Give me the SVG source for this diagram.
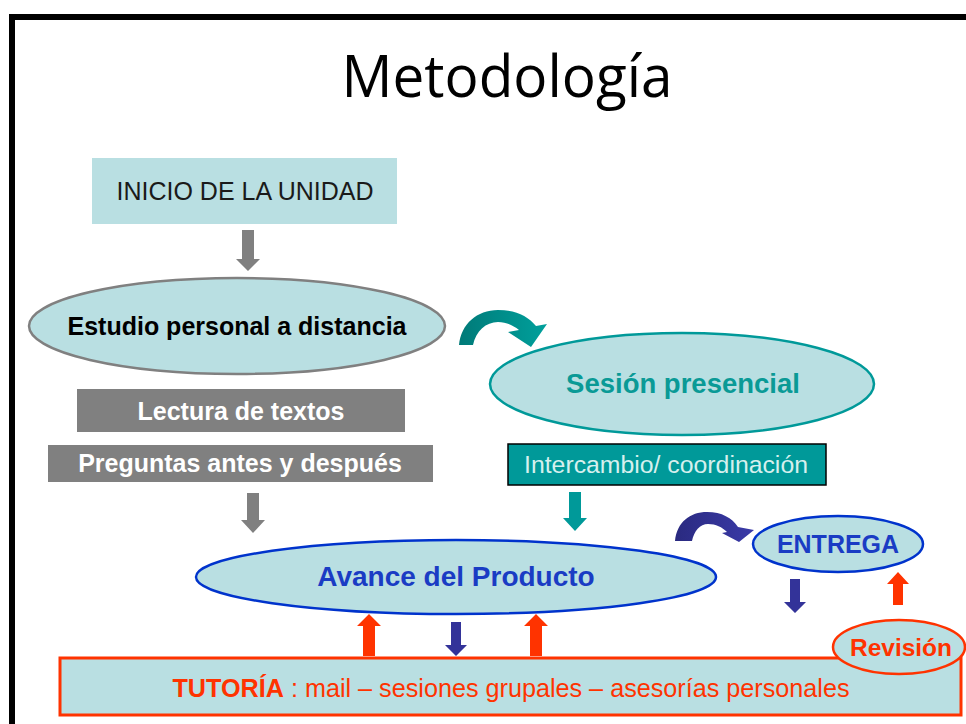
<svg xmlns="http://www.w3.org/2000/svg" width="966" height="724" viewBox="0 0 966 724">
<defs>
<style>
.lt{fill:#B9DFE2}
.t{font-family:"Liberation Sans",Arial,sans-serif;text-anchor:middle}
.b{font-weight:bold}
.gray{fill:#808080}
.teal{fill:#009999}
.navy{fill:#333399}
.red{fill:#FF3300}
</style>
<linearGradient id="gTeal" x1="0" y1="0" x2="1" y2="0">
<stop offset="0" stop-color="#007A78"/><stop offset="1" stop-color="#00A09C"/>
</linearGradient>
<linearGradient id="gNavy" x1="0" y1="0" x2="1" y2="0">
<stop offset="0" stop-color="#2A2A80"/><stop offset="1" stop-color="#3A3AA8"/>
</linearGradient>
</defs>
<rect x="0" y="0" width="966" height="724" fill="#FFFFFF"/>
<rect x="12" y="17" width="1000" height="800" fill="none" stroke="#000000" stroke-width="6"/>
<text x="507" y="97" font-family="'Open Sans','DejaVu Sans',sans-serif" font-size="58" textLength="331" lengthAdjust="spacingAndGlyphs" text-anchor="middle" fill="#000000">Metodología</text>

<g id="connectors">
<polygon class="gray" points="242,230 254,230 254,259 260,259 248,271 236,259 242,259"/>
<polygon class="gray" points="247,493 259,493 259,520 265,520 253,533 241,520 247,520"/>
<polygon class="teal" points="569,492 581,492 581,518 587,518 575,531 563,518 569,518"/>
<path fill="url(#gTeal)" d="M459,345 C461,324 477,310 498,310 C515,310 528,316 536,326 L547,324 L531,347 L508,332 L519,330 C513,325 506,322 498,322 C486,322 476,331 473,345 Z"/>
<path fill="url(#gNavy)" d="M675,541 C677,522 690,512 707,512 C722,512 732,518 738,527 L754,530 L739,542 L722,533 L727,532 C722,527 716,524 708,524 C700,524 694,531 692,541 Z"/>
<polygon class="navy" points="790,579 800,579 800,602 806,602 795,613 784,602 790,602"/>
<polygon class="red" points="893,605 903,605 903,584 909,584 898,572 887,584 893,584"/>
<polygon class="red" points="363,656 375,656 375,626 381,626 369,614 357,626 363,626"/>
<polygon class="red" points="530,656 542,656 542,626 548,626 536,614 524,626 530,626"/>
<polygon class="navy" points="451,622 461,622 461,645 467,645 456,656 445,645 451,645"/>
</g>

<g id="inicio">
<rect class="lt" x="92" y="158" width="305" height="66"/>
<text class="t" x="245" y="200" font-size="25" fill="#1A1A1A">INICIO DE LA UNIDAD</text>
</g>
<g id="estudio">
<ellipse class="lt" cx="237" cy="326" rx="208" ry="48" stroke="#808080" stroke-width="2.5"/>
<text class="t b" x="237" y="335" font-size="25" fill="#000000">Estudio personal a distancia</text>
</g>
<g id="lectura">
<rect class="gray" x="77" y="389" width="328" height="43"/>
<text class="t b" x="241" y="420" font-size="25" fill="#FFFFFF">Lectura de textos</text>
</g>
<g id="preguntas">
<rect class="gray" x="48" y="445" width="385" height="37"/>
<text class="t b" x="240" y="472" font-size="25" fill="#FFFFFF">Preguntas antes y después</text>
</g>
<g id="sesion">
<ellipse class="lt" cx="682" cy="384" rx="192" ry="51" stroke="#009999" stroke-width="2.5"/>
<text class="t b" x="683" y="393" font-size="27.5" fill="#0A9A96">Sesión presencial</text>
</g>
<g id="intercambio">
<rect class="teal" x="508" y="444" width="318" height="41" stroke="#000000" stroke-width="1.5"/>
<text class="t" x="666" y="473" font-size="24.8" fill="#D6F0EE">Intercambio/ coordinación</text>
</g>
<g id="avance">
<ellipse class="lt" cx="456" cy="577" rx="260" ry="37" stroke="#0033CC" stroke-width="2.5"/>
<text class="t b" x="456" y="586" font-size="28" fill="#1A3CC4">Avance del Producto</text>
</g>
<g id="entrega">
<ellipse class="lt" cx="838" cy="544" rx="85" ry="28" stroke="#0033CC" stroke-width="2.5"/>
<text class="t b" x="838" y="553" font-size="25" fill="#1A3CC4">ENTREGA</text>
</g>
<g id="tutoria">
<rect class="lt" x="60" y="658" width="901" height="57" stroke="#FF3300" stroke-width="3"/>
<text x="511" y="697" font-family="'Liberation Sans',Arial,sans-serif" font-size="25.2" text-anchor="middle" fill="#FF3300"><tspan font-weight="bold">TUTORÍA</tspan> : mail – sesiones grupales – asesorías personales</text>
</g>
<g id="revision">
<ellipse class="lt" cx="899" cy="647" rx="66" ry="27" stroke="#FF3300" stroke-width="2.5"/>
<text class="t b" x="901" y="656" font-size="24.5" fill="#FF3300">Revisión</text>
</g>
</svg>
